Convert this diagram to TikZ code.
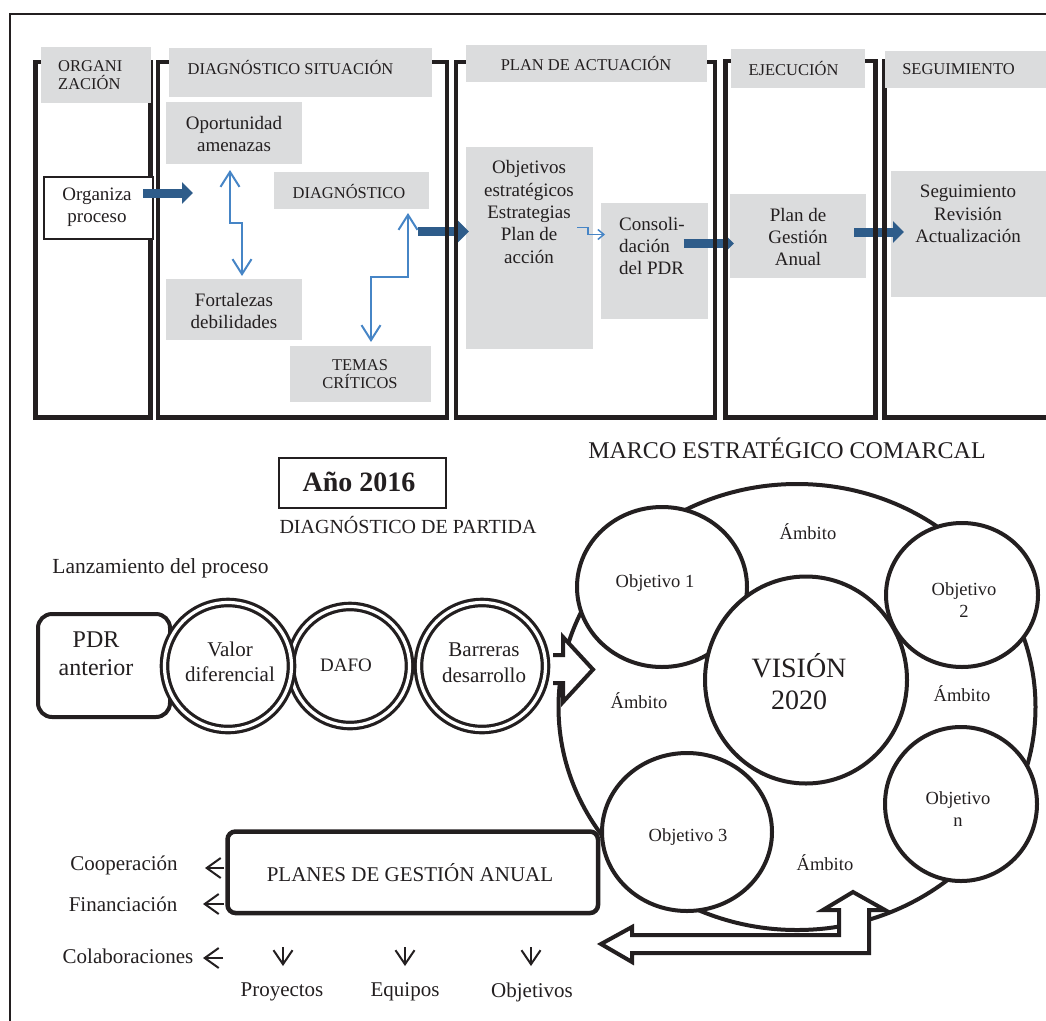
\documentclass[tikz,border=0pt]{standalone}
\usepackage{fontspec}
\setmainfont{Liberation Serif}
\usetikzlibrary{arrows.meta,shapes.geometric}
\definecolor{boxgray}{RGB}{219,220,221}
\definecolor{darkblue}{RGB}{46,92,138}
\definecolor{lightblue}{RGB}{70,133,198}
\definecolor{ink}{RGB}{35,31,32}
\tikzset{
  panelframe/.style={draw=ink, line width=4.5pt},
  hdr/.style={fill=boxgray, draw=none, inner sep=0pt, anchor=north west},
  wbox/.style={fill=white, draw=ink, line width=2pt, inner sep=0pt, anchor=north west},
  hfont/.style={font=\fontsize{16.5}{18.5}\selectfont, inner sep=0pt, text=ink, align=center},
  bfont/.style={font=\fontsize{19}{22.3}\selectfont, inner sep=0pt, text=ink, align=center},
  bigarrow/.style={draw=darkblue, line width=9pt, -{Triangle[length=11pt,width=21pt]}},
  thinblue/.style={draw=lightblue, line width=2pt, {Straight Barb[length=15pt,width=19pt]}-{Straight Barb[length=15pt,width=19pt]}},
  ring/.style={circle, draw=ink, double=white, line width=3.2pt, double distance=3.2pt, fill=white, inner sep=0pt},
  oval/.style={ellipse, draw=ink, line width=4pt, fill=white, inner sep=0pt},
  objfont/.style={font=\fontsize{18.5}{22}\selectfont, inner sep=0pt, text=ink, align=center},
  lowfont/.style={font=\fontsize{21}{25}\selectfont, inner sep=0pt, text=ink, align=center},
  smallarr/.style={draw=ink, line width=2pt, -{Straight Barb[length=14pt,width=20pt]}},
  downarr/.style={draw=ink, line width=2pt, -{Straight Barb[length=14pt,width=19pt]}},
  hollow/.style={draw=ink, line width=4pt, fill=white, line join=miter},
}
\begin{document}
\begin{tikzpicture}[x=1pt,y=-1pt]
\useasboundingbox (0,0) rectangle (1046,1020);
\clip (0,0) rectangle (1046,1020);

% outer frame
\draw[line width=2pt, ink] (10,1030) -- (10,14) -- (1060,14);

% ===== TOP: thick arrows that lie under the frames
\coordinate (a2s) at (418,231.5); \coordinate (a2e) at (469,231.5);
\coordinate (a3s) at (683.5,243.5); \coordinate (a3e) at (734,243.5);
\coordinate (a4s) at (854,232); \coordinate (a4e) at (904,232);

% gray content boxes (under arrows)
\node[hdr, minimum width=136pt, minimum height=62pt] (opp) at (166,102) {};
\node[hdr, minimum width=136pt, minimum height=61pt] (fort) at (166,279) {};
\node[hdr, minimum width=155pt, minimum height=37pt] (diag) at (274,172) {};
\node[hdr, minimum width=141pt, minimum height=56pt] (temas) at (290,346) {};
\node[hdr, minimum width=127pt, minimum height=202pt] (obj) at (466,147) {};
\node[hdr, minimum width=107pt, minimum height=116pt] (cons) at (601,203) {};
\node[hdr, minimum width=136pt, minimum height=84pt] (pga) at (730,194) {};
\node[hdr, minimum width=160pt, minimum height=126pt] (seg) at (891,171) {};

\draw[bigarrow] (a2s) -- (a2e);
\draw[bigarrow] (a3s) -- (a3e);
\draw[bigarrow] (a4s) -- (a4e);

% panel frames
\draw[panelframe] (35.5,62) rectangle (150.5,417.5);
\draw[panelframe] (158,62) rectangle (447,417.5);
\draw[panelframe] (456,62) rectangle (715,417.5);
\draw[panelframe] (725.5,61) rectangle (875.5,417.5);
\draw[panelframe] (884.5,61) rectangle (1070,417.5);

% headers
\node[hdr, minimum width=110pt, minimum height=56pt] (hOrg) at (41,47) {};
\node[hdr, minimum width=263pt, minimum height=49pt] (hDiag) at (169,48) {};
\node[hdr, minimum width=241pt, minimum height=37pt] (hPlan) at (466,45) {};
\node[hdr, minimum width=134pt, minimum height=39pt] (hEje) at (731,49) {};
\node[hdr, minimum width=180pt, minimum height=37pt] (hSeg) at (885,51) {};

\node[hfont, anchor=west, align=left] (tOrg) at (58,75) {ORGANI\\ZACIÓN};
\node[hfont] (tDiagS) at (290.5,67) {DIAGNÓSTICO SITUACIÓN};
\node[hfont] (tPlan) at (586,63) {PLAN DE ACTUACIÓN};
\node[hfont] (tEje) at (793.5,68) {EJECUCIÓN};
\node[hfont] (tSeg) at (958.5,69.5) {SEGUIMIENTO};

% Organiza proceso
\node[wbox, minimum width=108.5pt, minimum height=62pt] (org) at (43,176) {};
\node[bfont] (tOrgz) at (97,207.5) {Organiza\\proceso};
\coordinate (a1s) at (143,193); \coordinate (a1e) at (193,193);
\draw[bigarrow] (a1s) -- (a1e);

% texts of content boxes
\node[bfont] (tOpp) at (234,134) {Oportunidad\\amenazas};
\node[bfont] (tFort) at (234,311) {Fortalezas\\debilidades};
\node[hfont] (tDiag) at (349,191) {DIAGNÓSTICO};
\node[hfont] (tTemas) at (360,374) {TEMAS\\CRÍTICOS};
\node[bfont] (tObj) at (529,212) {Objetivos\\estratégicos\\Estrategias\\Plan de\\acción};
\node[bfont, anchor=west, align=left] (tCons) at (619,246) {Consoli-\\dación\\del PDR};
\node[bfont] (tPga) at (798,237) {Plan de\\Gestión\\Anual};
\node[bfont] (tSegB) at (968,214) {Seguimiento\\Revisión\\Actualización};

% thin blue arrows
\coordinate (b1s) at (230,170); \coordinate (b1m1) at (230,223);
\coordinate (b1m2) at (242,223); \coordinate (b1e) at (242,276);
\draw[thinblue] (b1s) -- (b1m1) -- (b1m2) -- (b1e);
\coordinate (b2s) at (408,213); \coordinate (b2m1) at (408,277);
\coordinate (b2m2) at (371,277); \coordinate (b2e) at (371,342);
\draw[thinblue] (b2s) -- (b2m1) -- (b2m2) -- (b2e);
\coordinate (c1s) at (577,227.5); \coordinate (c1m1) at (588,227.5);
\coordinate (c1m2) at (588,234.5); \coordinate (c1e) at (605,234.5);
\draw[draw=lightblue, line width=1.5pt, -{Straight Barb[length=6pt,width=10pt]}] (c1s) -- (c1m1) -- (c1m2) -- (c1e);

% ===== BOTTOM
\node[font=\fontsize{24}{28}\selectfont, inner sep=0pt, text=ink] (tMarco) at (787,448) {MARCO ESTRATÉGICO COMARCAL};
\node[wbox, minimum width=167pt, minimum height=50pt] (ano) at (278,457) {};
\node[font=\fontsize{28}{32}\selectfont\bfseries, inner sep=0pt, text=ink] (tAno) at (359,482) {Año 2016};
\node[font=\fontsize{20}{24}\selectfont, inner sep=0pt, text=ink] (tDP) at (408,525) {DIAGNÓSTICO DE PARTIDA};
\node[font=\fontsize{21.5}{25}\selectfont, inner sep=0pt, text=ink] (tLanz) at (160.5,568) {Lanzamiento del proceso};

% PDR anterior
\node[draw=ink, line width=4pt, rounded corners=14pt, fill=white, inner sep=0pt, anchor=north west, minimum width=132pt, minimum height=103pt] (pdr) at (36,612) {};
\node[font=\fontsize{24}{28}\selectfont, inner sep=0pt, text=ink, align=center] (tPDR) at (96,654) {PDR\\anterior};

% double-ring circles
\node[ring, minimum size=119pt] (dafo) at (350,666) {};
\node[ring, minimum size=127pt] (valor) at (228,666) {};
\node[ring, minimum size=127pt] (barr) at (482,666) {};
\node[font=\fontsize{21}{25}\selectfont, inner sep=0pt, text=ink, align=center] (tValor) at (230,662) {Valor\\diferencial};
\node[font=\fontsize{19}{22}\selectfont, inner sep=0pt, text=ink] (tDafo) at (346,665) {DAFO};
\node[font=\fontsize{21}{26}\selectfont, inner sep=0pt, text=ink, align=center] (tBarr) at (484,663) {Barreras\\desarrollo};

% big frame ellipse and objective circles
\node[oval, minimum width=477pt, minimum height=446pt] (marco) at (797,707) {};
\node[oval, minimum width=170pt, minimum height=160pt] (o1) at (662,587) {};
\node[oval, minimum width=202pt, minimum height=207pt] (vis) at (806,680) {};
\node[oval, minimum width=152pt, minimum height=144pt] (o2) at (962,595) {};
\node[oval, minimum width=152pt, minimum height=154pt] (on) at (961,804) {};

% planes de gestion anual
\node[draw=ink, line width=4.5pt, rounded corners=8pt, fill=white, inner sep=0pt, anchor=north west, minimum width=370.5pt, minimum height=81.5pt] (planes) at (225.25,829.25) {};
\node[oval, minimum width=170pt, minimum height=158pt] (o3) at (687,832) {};

\node[objfont] (tO1) at (655,583) {Objetivo 1};
\node[font=\fontsize{28}{32}\selectfont, inner sep=0pt, text=ink, align=center] (tVis) at (799,682) {VISIÓN\\2020};
\node[objfont] (tO2) at (964,600) {Objetivo\\2};
\node[objfont] (tON) at (958,809) {Objetivo\\n};
\node[objfont] (tO3) at (688,837) {Objetivo 3};
\node[objfont] (amb1) at (808,532) {Ámbito};
\node[objfont] (amb2) at (639,701) {Ámbito};
\node[objfont] (amb3) at (962,694) {Ámbito};
\node[objfont] (amb4) at (825,863) {Ámbito};

% hollow arrow from Barreras into the frame
\draw[hollow] (553,655) -- (563,655) -- (563,637) -- (593,669.5) -- (563,702) -- (563,683) -- (553,683);

% hollow L-shaped double arrow
\draw[hollow] (853,892) -- (885,910) -- (869,910) -- (869,953) -- (632,953) -- (632,962)
  -- (601,944) -- (632,927) -- (632,935) -- (839,935) -- (839,910) -- (823,910) -- cycle;

\node[font=\fontsize{21}{25}\selectfont, inner sep=0pt, text=ink] (tPlanes) at (410,873) {PLANES DE GESTIÓN ANUAL};

% side arrows and labels
\coordinate (coopS) at (224,868); \coordinate (coopE) at (205,868);
\coordinate (finS) at (224,904); \coordinate (finE) at (203,904);
\coordinate (colS) at (223,958); \coordinate (colE) at (203,958);
\draw[smallarr] (coopS) -- (coopE);
\draw[smallarr] (finS) -- (finE);
\draw[smallarr] (colS) -- (colE);
\node[lowfont] (tCoop) at (124,865) {Cooperación};
\node[lowfont] (tFin) at (123,904) {Financiación};
\node[lowfont] (tCol) at (128,956) {Colaboraciones};

\coordinate (d1s) at (283,947); \coordinate (d1e) at (283,966);
\coordinate (d2s) at (405,947); \coordinate (d2e) at (405,966);
\coordinate (d3s) at (531,947); \coordinate (d3e) at (531,966);
\draw[downarr] (d1s) -- (d1e);
\draw[downarr] (d2s) -- (d2e);
\draw[downarr] (d3s) -- (d3e);
\node[lowfont] (tProy) at (282,992) {Proyectos};
\node[lowfont] (tEq) at (405,992) {Equipos};
\node[lowfont] (tObjs) at (532,992) {Objetivos};
\end{tikzpicture}
\end{document}
